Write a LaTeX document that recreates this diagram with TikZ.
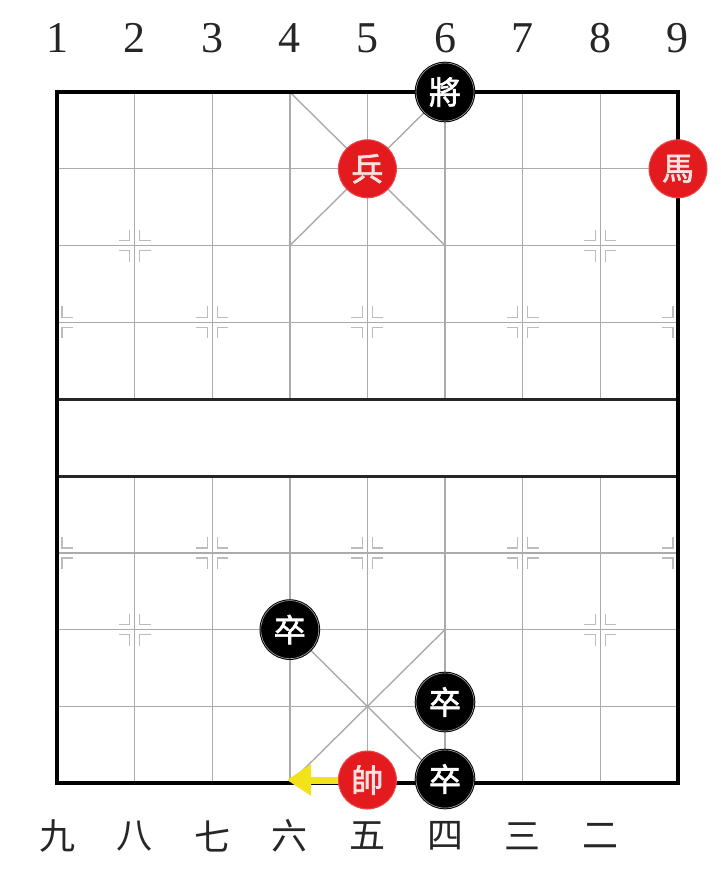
\documentclass[tikz,border=0pt]{standalone}
\usepackage{fontspec}
\setmainfont{Liberation Serif}
\newfontfamily\cjk[FakeBold=2]{Noto Sans CJK TC}
\newfontfamily\cjksc{Noto Sans CJK SC}
\usetikzlibrary{arrows.meta}
\definecolor{gridgray}{HTML}{ABABAB}
\definecolor{piecered}{HTML}{E31B1F}
\definecolor{arrowyellow}{HTML}{F2E21A}
\tikzset{
  gridline/.style={draw=gridgray, line width=1.4pt},
  borderline/.style={draw=black, line width=4.5pt},
  riverline/.style={draw=black!85, line width=3pt},
  starmark/.style={draw=gridgray!80, line width=1.4pt},
  blackpiece/.style={circle, minimum size=58pt, inner sep=0pt, fill=black, draw=black, double=gray!70, double distance=0.6pt, line width=1pt, text=white, font=\cjk\fontsize{32}{32}\selectfont},
  redpiece/.style={circle, minimum size=58pt, inner sep=0pt, fill=piecered, draw=piecered!80!white, line width=1pt, text=white!88!red, font=\cjk\fontsize{32}{32}\selectfont},
  toplabel/.style={font=\fontsize{44}{44}\selectfont, text=black!85},
  botlabel/.style={font=\cjksc\fontsize{36}{36}\selectfont, text=black!85},
  moveline/.style={draw=arrowyellow, line width=7pt, -{Triangle[length=24pt, width=30pt]}}
}
\begin{document}
\begin{tikzpicture}[x=1pt, y=-1pt]
\useasboundingbox (0,0) rectangle (720,877);
\fill[white] (0,0) rectangle (720,877);
% grid: horizontal lines
\foreach \j in {1,2,3,6,7,8} {
  \draw[gridline] (57,92+76.8*\j) -- (678,92+76.8*\j);
}
% vertical lines
\foreach \i in {1,...,7} {
  \draw[gridline] (57+77.6*\i,92) -- (57+77.6*\i,399.2);
  \draw[gridline] (57+77.6*\i,476) -- (57+77.6*\i,783.2);
}
% palace diagonals
\draw[gridline] (289.8,92) -- (445,245.6);
\draw[gridline] (445,92) -- (289.8,245.6);
\draw[gridline] (289.8,629.6) -- (445,783.2);
\draw[gridline] (445,629.6) -- (289.8,783.2);
% star markers
\newcommand\starq[4]{% x y sx sy
  \draw[starmark] ({#1+#3*5},{#2+#4*16}) -- ({#1+#3*5},{#2+#4*5}) -- ({#1+#3*16},{#2+#4*5});
}
\newcommand\starfull[2]{%
  \starq{#1}{#2}{1}{1}\starq{#1}{#2}{-1}{1}\starq{#1}{#2}{1}{-1}\starq{#1}{#2}{-1}{-1}
}
\newcommand\starleft[2]{\starq{#1}{#2}{1}{1}\starq{#1}{#2}{1}{-1}}
\newcommand\starright[2]{\starq{#1}{#2}{-1}{1}\starq{#1}{#2}{-1}{-1}}
\starfull{134.6}{245.6}\starfull{600.2}{245.6}
\starfull{134.6}{629.6}\starfull{600.2}{629.6}
\foreach \y in {322.4,552.8} {
  \starleft{57}{\y}
  \starfull{212.2}{\y}\starfull{367.4}{\y}\starfull{522.6}{\y}
  \starright{678}{\y}
}
% river and border
\draw[riverline] (57,399.2) -- (678,399.2);
\draw[riverline] (57,476) -- (678,476);
\draw[borderline] (57,92) rectangle (678,783.2);
% labels
\foreach \n in {1,...,9} {
  \node[toplabel] (top\n) at (57+77.6*\n-77.6,38) {\n};
}
\foreach \n/\t in {1/九,2/八,3/七,4/六,5/五,6/四,7/三,8/二} {
  \node[botlabel] (bot\n) at (57+77.6*\n-77.6,836) {\t};
}
% move arrow
\node[redpiece] (shuai) at (367.4,780) {帥};
\coordinate (dest) at (287,780);
\draw[moveline] (shuai.west) -- (dest);
% pieces
\node[blackpiece] (jiang) at (445,92) {將};
\node[redpiece] (bing) at (367.4,168.8) {兵};
\node[redpiece] (ma) at (678,168.8) {馬};
\node[blackpiece] (zu1) at (289.8,629.6) {卒};
\node[blackpiece] (zu2) at (445,702) {卒};
\node[blackpiece] (zu3) at (445,779) {卒};
\end{tikzpicture}
\end{document}
